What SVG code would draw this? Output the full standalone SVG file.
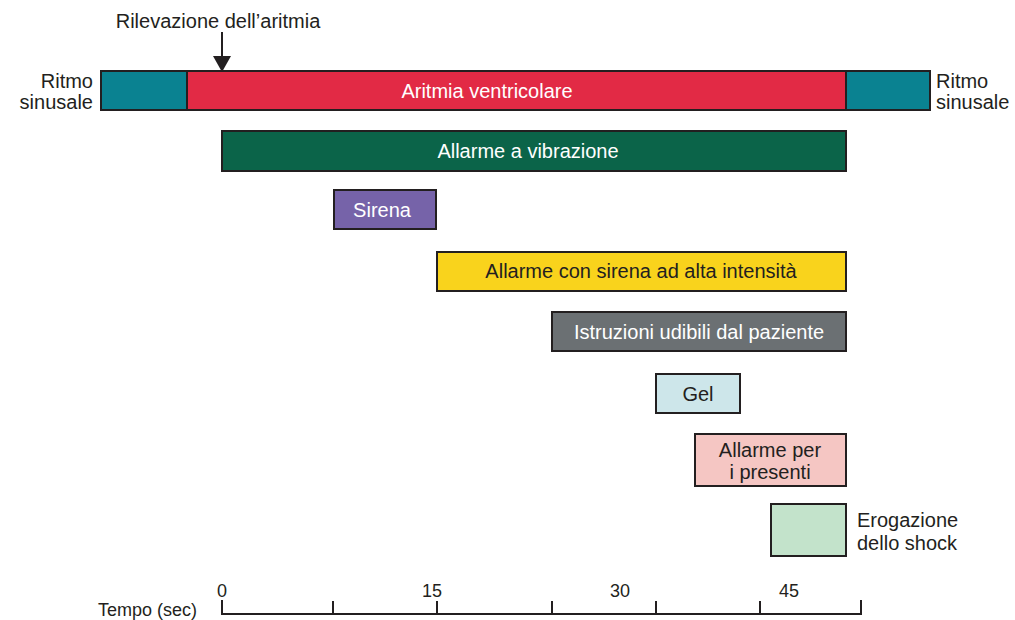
<svg xmlns="http://www.w3.org/2000/svg" width="1015" height="620" viewBox="0 0 1015 620">
<style>
text{font-family:"Liberation Sans",Arial,sans-serif;font-size:20px;fill:#231f20}
.c{text-anchor:middle}
.w{fill:#ffffff}
.s{font-size:18px}
.bar{stroke:#231f20;stroke-width:2}
.ax{stroke:#231f20;stroke-width:2;fill:none}
</style>
<rect width="1015" height="620" fill="#ffffff"/>
<g id="rilevazione">
<text class="c" x="218" y="28">Rilevazione dell’aritmia</text>
</g>
<g id="connectors">
<line x1="222" y1="32" x2="222" y2="58" stroke="#231f20" stroke-width="2"/>
<polygon points="213,56 231,56 222,72" fill="#231f20"/>
</g>
<g id="ritmo-bar">
<rect class="bar" x="101" y="71" width="829" height="39" fill="#0a8291"/>
<rect class="bar" x="187" y="71" width="659" height="39" fill="#e22a45" stroke-width="3"/>
<text class="c w" x="487" y="98">Aritmia ventricolare</text>
</g>
<g id="ritmo-left">
<text x="93" y="88" text-anchor="end">Ritmo</text>
<text x="93" y="109" text-anchor="end">sinusale</text>
</g>
<g id="ritmo-right">
<text x="936" y="88">Ritmo</text>
<text x="936" y="109">sinusale</text>
</g>
<g id="vibrazione">
<rect class="bar" x="222" y="131" width="624" height="40" fill="#0b6449"/>
<text class="c w" x="528" y="158">Allarme a vibrazione</text>
</g>
<g id="sirena">
<rect class="bar" x="334" y="190" width="102" height="39" fill="#7663a9"/>
<text class="c w" x="382" y="217">Sirena</text>
</g>
<g id="sirena-alta">
<rect class="bar" x="437" y="252" width="409" height="39" fill="#f9d31c"/>
<text class="c" x="641" y="278">Allarme con sirena ad alta intensità</text>
</g>
<g id="istruzioni">
<rect class="bar" x="552" y="312" width="294" height="39" fill="#6b7073"/>
<text class="c w" x="699" y="339">Istruzioni udibili dal paziente</text>
</g>
<g id="gel">
<rect class="bar" x="656" y="374" width="84" height="39" fill="#cde6ea"/>
<text class="c" x="698" y="401">Gel</text>
</g>
<g id="presenti">
<rect class="bar" x="695" y="434" width="151" height="52" fill="#f5c6c3"/>
<text class="c" x="770" y="457">Allarme per</text>
<text class="c" x="770" y="479">i presenti</text>
</g>
<g id="shock">
<rect class="bar" x="771" y="504" width="75" height="52" fill="#c3e3cb"/>
<text x="857" y="527">Erogazione</text>
<text x="857" y="550">dello shock</text>
</g>
<g id="axis">
<path class="ax" d="M222,600 V614 H861 V600 M333,601 V614 M437,601 V614 M552,601 V614 M656,601 V614 M760,601 V614"/>
<text class="c s" x="222" y="597">0</text>
<text class="c s" x="432" y="597">15</text>
<text class="c s" x="620" y="597">30</text>
<text class="c s" x="789" y="597">45</text>
<text class="s" x="197" y="616" text-anchor="end">Tempo (sec)</text>
</g>
</svg>
